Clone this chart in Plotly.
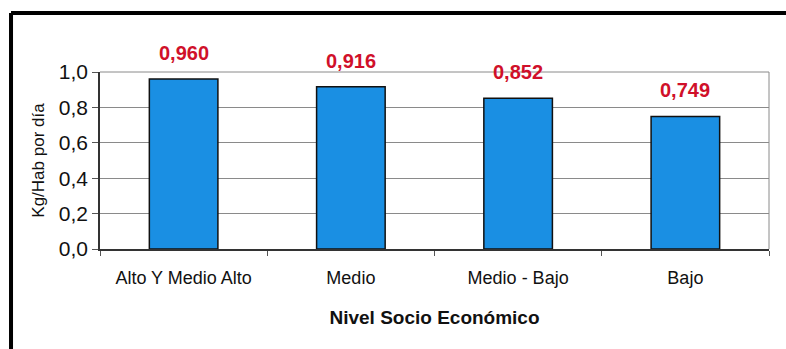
import plotly.graph_objects as go

categories = ["Alto Y Medio Alto", "Medio", "Medio - Bajo", "Bajo"]
values = [0.960, 0.916, 0.852, 0.749]
y_ticks = [0.0, 0.2, 0.4, 0.6, 0.8, 1.0]

labels = [f"{v:.3f}".replace(".", ",") for v in values]

fig = go.Figure()
fig.add_trace(go.Bar(
    x=categories, y=values,
    marker=dict(color="#1a8fe3", line=dict(color="#111111", width=1.5)),
    width=0.41,
    hoverinfo="skip",
))

for c, v, t in zip(categories, values, labels):
    fig.add_annotation(x=c, y=v, text=f"<b>{t}</b>", showarrow=False,
                       yanchor="middle", yshift=26,
                       font=dict(family="Liberation Sans, Arial", size=20, color="#d0102a"))

fig.update_layout(
    width=786, height=349,
    margin=dict(l=100, r=17, t=72, b=100),
    paper_bgcolor="white", plot_bgcolor="white",
    separators=",.",
    showlegend=False,
    font=dict(family="Liberation Sans, Arial", size=18, color="#111111"),
    xaxis=dict(
        showline=True, linecolor="#333333", linewidth=1.5,
        ticks="outside", ticklen=5, tickcolor="#555555", tickson="boundaries",
        tickfont=dict(size=18), ticklabelstandoff=12,
        title=dict(text="<b>Nivel Socio Económico</b>", font=dict(size=19), standoff=23),
    ),
    yaxis=dict(
        range=[0, 1.0], tickvals=y_ticks, tickformat=".1f",
        showline=True, linecolor="#333333", linewidth=1.5,
        ticks="outside", ticklen=6, tickcolor="#555555",
        showgrid=True, gridcolor="#8a8a8a", gridwidth=1,
        tickfont=dict(size=21),
        title=dict(text="Kg/Hab por día", font=dict(size=17), standoff=10),
        zeroline=False,
    ),
    shapes=[
        dict(type="line", xref="paper", yref="paper", x0=1, x1=1, y0=0, y1=1,
             line=dict(color="#8a8a8a", width=1)),
        dict(type="line", xref="paper", yref="paper", x0=0, x1=1, y0=1, y1=1,
             line=dict(color="#8a8a8a", width=1)),
        dict(type="line", xref="paper", yref="paper", x0=-0.133, x1=-0.133, y0=-0.6, y1=1.333,
             line=dict(color="#000000", width=4)),
        dict(type="line", xref="paper", yref="paper", x0=-0.133, x1=1.03, y0=1.333, y1=1.333,
             line=dict(color="#000000", width=4)),
    ],
)

fig.write_html("out.html")
